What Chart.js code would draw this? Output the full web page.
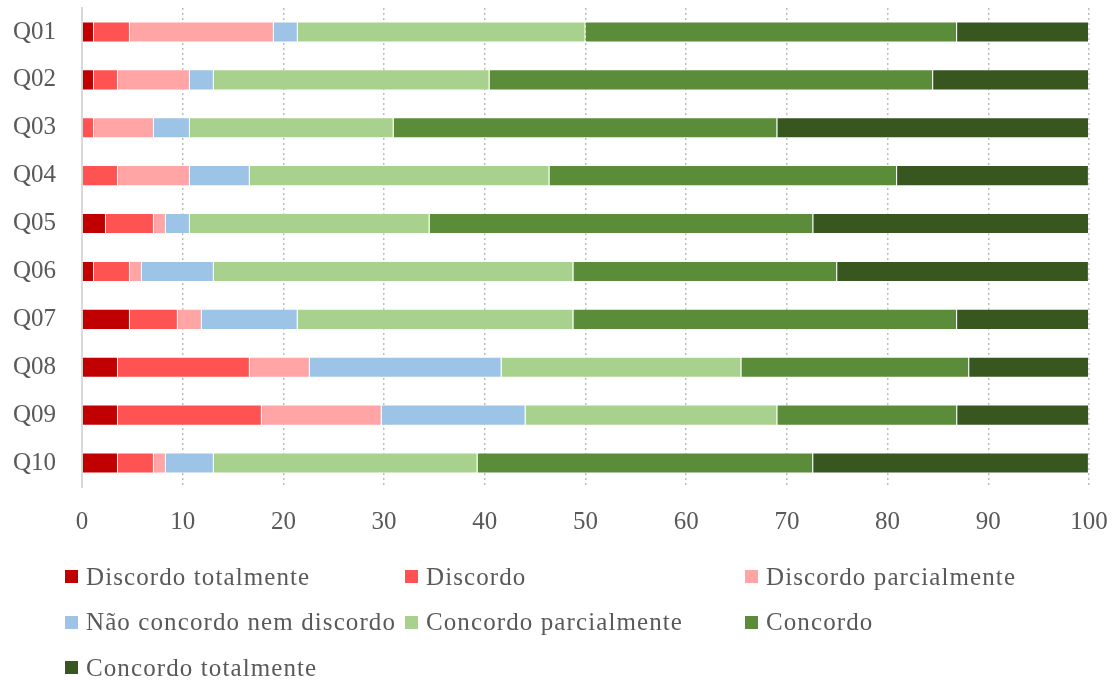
<!DOCTYPE html>
<html>
<head>
<meta charset="utf-8">
<script src="https://cdn.jsdelivr.net/npm/chart.js"></script>
<style>
  body { margin: 0; background: #fff; }
  #wrap { position: relative; width: 1118px; height: 682px; }
  #legend {
    position: absolute; left: 65px; top: 554px;
    display: grid; grid-template-columns: 340px 340px 340px; grid-auto-rows: 45.5px;
    font-family: 'Liberation Serif', 'Times New Roman', serif; font-size: 25px;
    letter-spacing: 1.1px; color: #595959;
  }
  .item { display: flex; align-items: center; white-space: nowrap; }
  .box { width: 13px; height: 13px; margin-right: 8px; flex: none; }
</style>
</head>
<body>
<div id="wrap">
  <canvas id="chart" width="1118" height="682"></canvas>
  <div id="legend"></div>
</div>
<script>
const categories = ['Q01', 'Q02', 'Q03', 'Q04', 'Q05', 'Q06', 'Q07', 'Q08', 'Q09', 'Q10'];
const xTicks = [0, 10, 20, 30, 40, 50, 60, 70, 80, 90, 100];

// percentages per answer, one value per question
const discordoTotalmente   = [1.19, 1.19, 0,     0,     2.38,  1.19,  4.76,  3.57,  3.57,  3.57];
const discordo             = [3.57, 2.38, 1.19,  3.57,  4.76,  3.57,  4.76,  13.10, 14.29, 3.57];
const discordoParcialmente = [14.29, 7.14, 5.95, 7.14,  1.19,  1.19,  2.38,  5.95,  11.90, 1.19];
const naoConcordoNem       = [2.38, 2.38, 3.57,  5.95,  2.38,  7.14,  9.52,  19.05, 14.29, 4.76];
const concordoParcialmente = [28.57, 27.38, 20.24, 29.76, 23.81, 35.71, 27.38, 23.81, 25.00, 26.19];
const concordo             = [36.90, 44.05, 38.10, 34.52, 38.10, 26.19, 38.10, 22.62, 17.86, 33.33];
const concordoTotalmente   = [13.10, 15.48, 30.95, 19.05, 27.38, 25.00, 13.10, 11.90, 13.10, 27.38];

const seriesNames = ['Discordo totalmente', 'Discordo', 'Discordo parcialmente',
  'Não concordo nem discordo', 'Concordo parcialmente', 'Concordo', 'Concordo totalmente'];
const seriesData = [discordoTotalmente, discordo, discordoParcialmente, naoConcordoNem,
  concordoParcialmente, concordo, concordoTotalmente];
const seriesColors = ['#C00000', '#FF5353', '#FFA5A5', '#9DC3E6', '#A9D18E', '#5A8C39', '#38561F'];

const font = { family: "'Liberation Serif', 'Times New Roman', serif", size: 25 };

const chart = new Chart(document.getElementById('chart'), {
  type: 'bar',
  data: {
    labels: categories,
    datasets: seriesNames.map((name, i) => ({
      label: name,
      data: seriesData[i],
      backgroundColor: seriesColors[i],
      borderColor: 'rgba(255,255,255,0.35)',
      borderWidth: 1,
      barPercentage: 0.44,
      categoryPercentage: 1
    }))
  },
  options: {
    indexAxis: 'y',
    responsive: false,
    animation: false,
    devicePixelRatio: 1,
    layout: { padding: { top: 8, right: 29, bottom: 135, left: 0 } },
    plugins: { legend: { display: false }, tooltip: { enabled: false } },
    scales: {
      x: {
        stacked: true, min: 0, max: 100,
        afterBuildTicks: (s) => { s.ticks = xTicks.map(v => ({ value: v })); },
        afterFit: (s) => { s.height = 60; s.paddingLeft = 0; s.paddingRight = 0; },
        grid: { color: '#BDBDBD', lineWidth: 1.5, drawTicks: false },
        border: { display: false, dash: [2, 3] },
        ticks: { font: font, color: '#595959', padding: 20 }
      },
      y: {
        stacked: true,
        afterFit: (s) => { s.width = 82; s.paddingTop = 0; s.paddingBottom = 0; },
        grid: { display: false, drawTicks: false },
        border: { display: true, color: '#D9D9D9', width: 2 },
        ticks: { font: font, color: '#595959', padding: 26 }
      }
    }
  }
});

const legend = document.getElementById('legend');
seriesNames.forEach((name, i) => {
  const item = document.createElement('div');
  item.className = 'item';
  const box = document.createElement('span');
  box.className = 'box';
  box.style.background = seriesColors[i];
  item.appendChild(box);
  item.appendChild(document.createTextNode(name));
  legend.appendChild(item);
});
</script>
</body>
</html>
